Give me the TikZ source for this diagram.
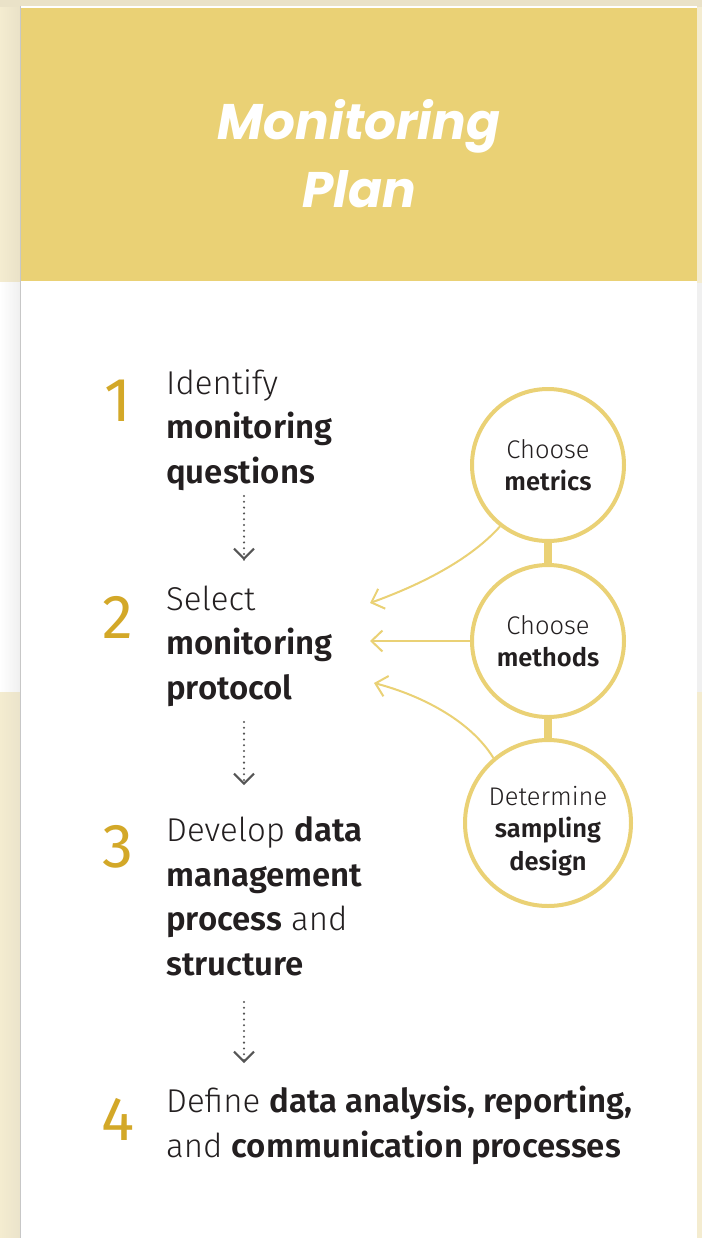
\documentclass[tikz,border=0pt]{standalone}
\usepackage{fontspec}
\usetikzlibrary{arrows.meta}
\IfFontExistsTF{Fira Sans Light}{%
  \setmainfont{Fira Sans Light}[BoldFont={Fira Sans SemiBold}]}{%
  \setmainfont{Fira Sans}}
\newfontfamily\numfont{Fira Sans}
\newfontfamily\titlefont{Poppins}
\definecolor{gold}{RGB}{234,209,117}
\definecolor{numgold}{RGB}{211,168,40}
\definecolor{cream}{RGB}{244,236,208}
\definecolor{creamdark}{RGB}{234,226,200}
\definecolor{txt}{RGB}{35,31,32}
\definecolor{dotgray}{RGB}{85,85,85}
\tikzset{
  num/.style={anchor=base, font=\numfont\fontsize{62}{62}\selectfont, text=numgold, inner sep=0},
  steptext/.style={anchor=base west, align=left, font=\fontsize{33}{44.5}\selectfont, text=txt, inner sep=0},
  ring/.style={circle, draw=gold, line width=4pt, fill=white, align=center, text=txt,
    font=\fontsize{25.5}{32.5}\selectfont, inner sep=0},
  flow/.style={dotgray, line width=2.3pt, line cap=round, dash pattern=on 0pt off 5.8pt},
  flowtip/.style={dotgray, solid, line width=2pt, -{Straight Barb[length=10pt,width=20pt,line width=2pt]}},
  feed/.style={gold, line width=2pt, -{Straight Barb[length=11pt,width=21pt,line width=2pt]}},
  link/.style={gold, line width=8pt}
}
\begin{document}
\begin{tikzpicture}[x=1pt,y=-1pt]
\useasboundingbox (0,0) rectangle (702,1238);
% page background
\fill[cream] (0,0) rectangle (702,283);
\fill[left color=cream, right color=creamdark] (0,0) rectangle (20,283);
\fill[creamdark] (0,0) rectangle (702,7);
\fill[left color=white, right color=black!6] (0,283) rectangle (20,692);
\fill[cream] (0,692) rectangle (702,1238);
\fill[left color=cream, right color=creamdark!95] (0,692) rectangle (20,1238);
\fill[black!6] (697,283) rectangle (702,692);
% card
\fill[white] (20,6) rectangle (697,1238);
\draw[black!22, line width=1pt] (20.5,6) -- (20.5,1238);
\fill[gold] (21,8) rectangle (697,281);
% title
\node[text=white, font=\titlefont\fontsize{50}{68}\selectfont\bfseries\itshape, align=center] (title) at (359,154) {Monitoring\\Plan};
% numbers
\node[num] (n1) at (118,421) {1};
\node[num] (n2) at (118,638) {2};
\node[num] (n3) at (118,867) {3};
\node[num] (n4) at (118,1140) {4};
% step texts (anchor = baseline of last line)
\node[steptext] (s1) at (166,483) {Identify\\\textbf{monitoring}\\\textbf{questions}};
\node[steptext] (s2) at (166,699) {Select\\\textbf{monitoring}\\\textbf{protocol}};
\node[steptext] (s3) at (166,975) {Develop \textbf{data}\\\textbf{management}\\\textbf{process} and\\\textbf{structure}};
\node[steptext] (s4) at (166,1157) {Define \textbf{data analysis, reporting,}\\and \textbf{communication processes}};
% flow arrows
\coordinate (a1s) at (244,496); \coordinate (a1e) at (244,560);
\coordinate (a2s) at (244,722); \coordinate (a2e) at (244,785);
\coordinate (a3s) at (244,1002); \coordinate (a3e) at (244,1063);
\draw[flow] (a1s) -- (a1e);
\draw[flow] (a2s) -- (a2e);
\draw[flow] (a3s) -- (a3e);
\draw[flowtip] ([yshift=3pt]a1e) -- (a1e);
\draw[flowtip] ([yshift=3pt]a2e) -- (a2e);
\draw[flowtip] ([yshift=3pt]a3e) -- (a3e);
% circles
\draw[link] (548,530) -- (548,575);
\draw[link] (548,710) -- (548,748);
\node[ring, minimum size=152pt] (c1) at (548,465) {Choose\\\textbf{metrics}};
\node[ring, minimum size=152pt] (c2) at (548,641) {Choose\\\textbf{methods}};
\node[ring, minimum size=166pt] (c3) at (548,823) {\rule{0pt}{35pt}Determine\\\textbf{sampling}\\\textbf{design}};
% feedback arrows
\coordinate (f1) at (370,603);
\coordinate (f2) at (370,641);
\coordinate (f3) at (374,683);
\draw[feed] (c1.232) .. controls (470,560) and (420,585) .. (f1);
\draw[feed] (c2.west) -- (f2);
\draw[feed] (c3.130) .. controls (470,720) and (420,695) .. (f3);
\end{tikzpicture}
\end{document}
